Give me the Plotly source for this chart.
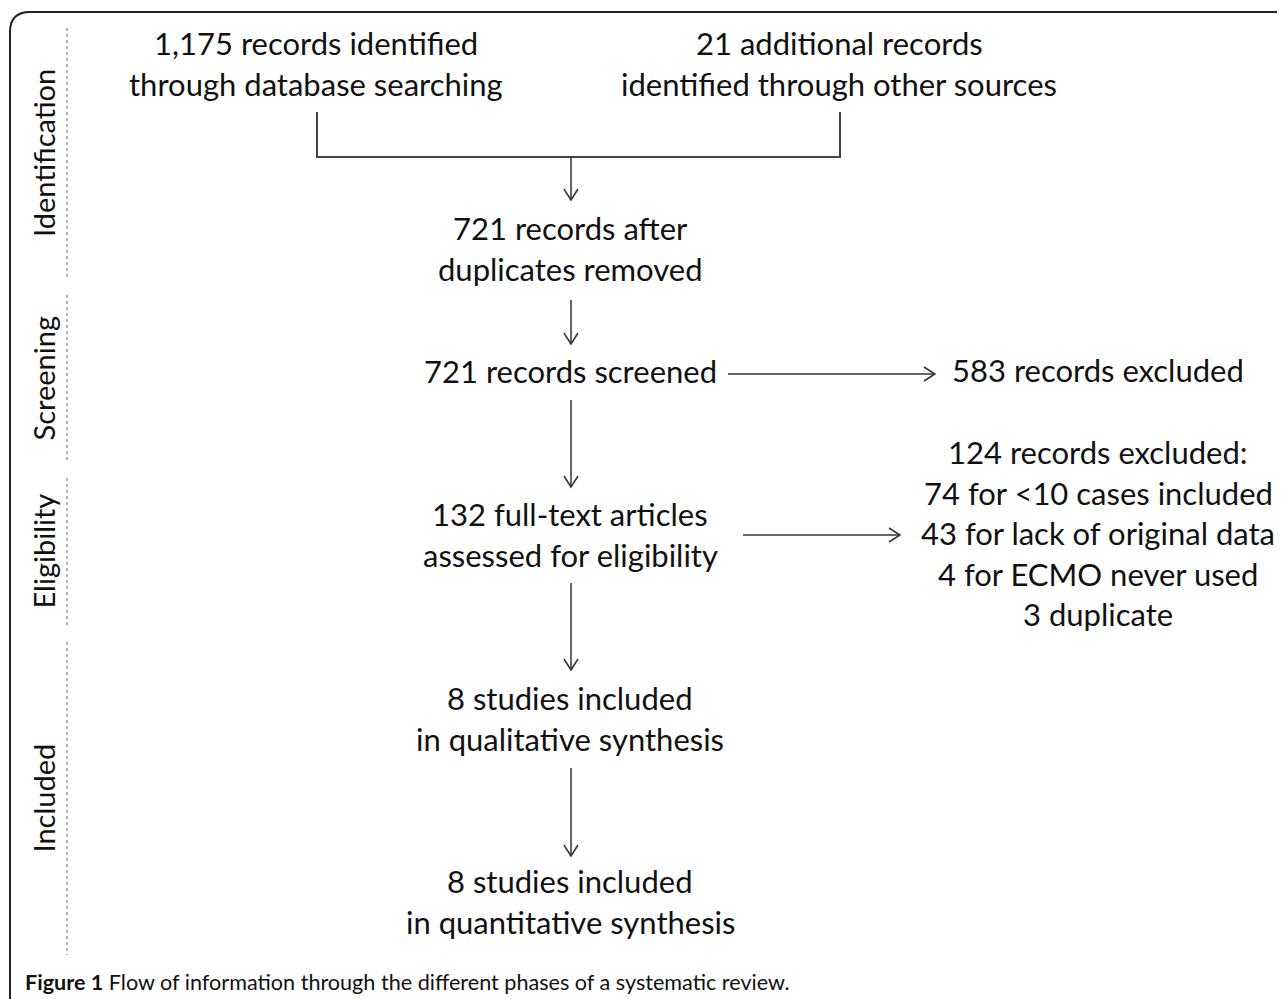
import plotly.graph_objects as go

W, H = 1285, 999
OFF = 8  # default page margin of the html body
FONT = "Lato"
TXT = "#111111"
LINE = "#333333"

# ---- content ----
phase_labels = ["Identification", "Screening", "Eligibility", "Included"]
phase_spans = [(28, 278), (295, 462), (478, 625), (642, 955)]

box_texts = [
    ["1,175 records identified", "through database searching"],
    ["21 additional records", "identified through other sources"],
    ["721 records after", "duplicates removed"],
    ["721 records screened"],
    ["583 records excluded"],
    ["132 full-text articles", "assessed for eligibility"],
    ["124 records excluded:", "74 for <10 cases included", "43 for lack of original data",
     "4 for ECMO never used", "3 duplicate"],
    ["8 studies included", "in qualitative synthesis"],
    ["8 studies included", "in quantitative synthesis"],
]
box_centers = [(316, 43), (839, 43), (570, 228), (570, 371), (1098, 370),
               (570, 514), (1098, 452), (570, 698), (570, 881)]
LINE_STEP = 40.5

caption_bold = "Figure 1"
caption_rest = "Flow of information through the different phases of a systematic review."

# arrows: (x0, y0, x1, y1) tip at (x1, y1)
arrows = [(571, 157, 571, 200), (571, 300, 571, 344), (728, 374, 935, 374),
          (571, 400, 571, 487), (743, 535, 900, 535), (571, 583, 571, 670),
          (571, 768, 571, 856)]
bracket = [(317, 112), (317, 157), (840, 157), (840, 112)]

fig = go.Figure()
fig.add_trace(go.Scatter(x=[OFF, W], y=[OFF, H], mode="markers", marker=dict(opacity=0),
                         hoverinfo="skip", showlegend=False))

shapes = []
# outer rounded border
shapes.append(dict(type="path", path=f"M 10,{H+5} L 10,32 Q 10,12 30,12 L {W+5},12",
                   line=dict(color="#222222", width=2)))
# dotted phase separators
for (y0, y1) in phase_spans:
    shapes.append(dict(type="line", x0=67, x1=67, y0=y0, y1=y1,
                       line=dict(color="#9a9a9a", width=1.5, dash="dot")))
# bracket
pth = "M " + " L ".join(f"{x},{y}" for x, y in bracket)
shapes.append(dict(type="path", path=pth, line=dict(color="#444444", width=2)))
# arrows
for x0, y0, x1, y1 in arrows:
    shapes.append(dict(type="line", x0=x0, y0=y0, x1=x1, y1=y1, line=dict(color=LINE, width=1.5)))
    if x0 == x1:
        head = f"M {x1-7},{y1-11} L {x1},{y1} L {x1+7},{y1-11}"
    else:
        head = f"M {x1-11},{y1-7} L {x1},{y1} L {x1-11},{y1+7}"
    shapes.append(dict(type="path", path=head, line=dict(color=LINE, width=1.5)))

annotations = []
for lines, (cx, cy) in zip(box_texts, box_centers):
    for i, t in enumerate(lines):
        annotations.append(dict(x=cx, y=cy + i * LINE_STEP, text=t, showarrow=False,
                                xanchor="center", yanchor="middle",
                                font=dict(family=FONT, size=31, color=TXT)))
for lab, (y0, y1) in zip(phase_labels, phase_spans):
    annotations.append(dict(x=43, y=(y0 + y1) / 2, text=lab, textangle=-90, showarrow=False,
                            xanchor="center", yanchor="middle",
                            font=dict(family=FONT, size=29, color=TXT)))
annotations.append(dict(x=23, y=982, text=f"<b>{caption_bold}</b> {caption_rest}",
                        showarrow=False, xanchor="left", yanchor="middle",
                        font=dict(family=FONT, size=21.6, color="#111111")))

fig.update_layout(
    width=W - OFF, height=H - OFF, margin=dict(l=0, r=0, t=0, b=0),
    paper_bgcolor="white", plot_bgcolor="white",
    xaxis=dict(range=[OFF, W], visible=False, fixedrange=True),
    yaxis=dict(range=[H, OFF], visible=False, fixedrange=True),
    shapes=shapes, annotations=annotations, showlegend=False,
)
fig.write_html("out.html")
